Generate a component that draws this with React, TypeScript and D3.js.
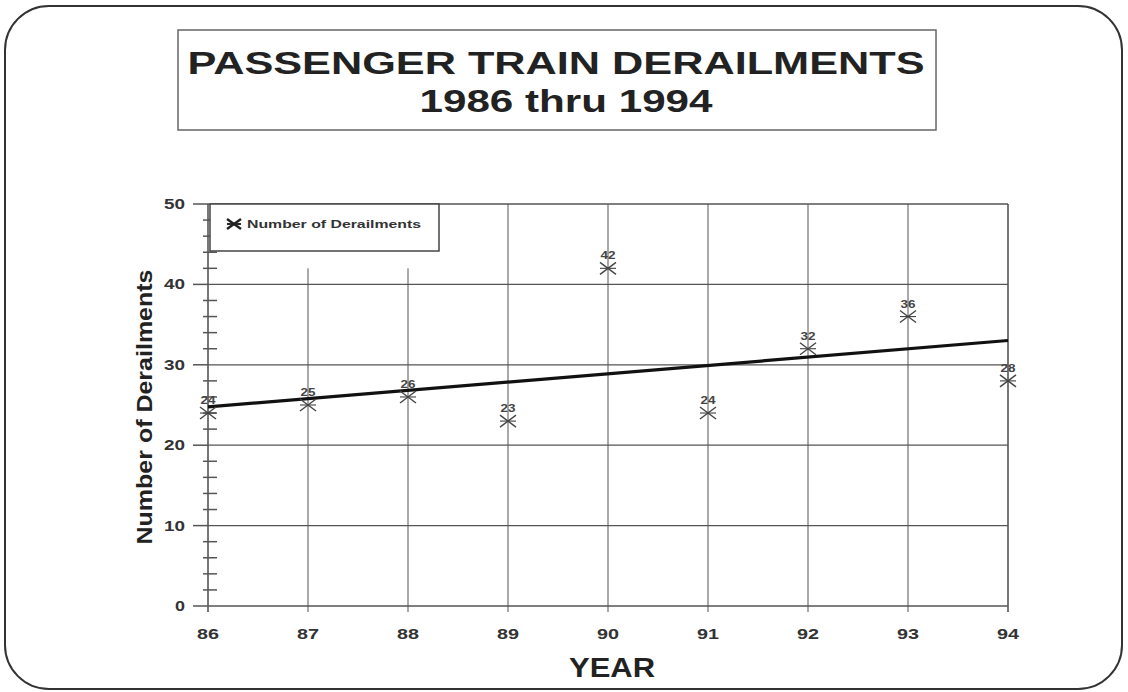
import React from "react";
import * as d3 from "d3";

const years = ["86", "87", "88", "89", "90", "91", "92", "93", "94"];
const derailments = [24, 25, 26, 23, 42, 24, 32, 36, 28];
const yTicks = [0, 10, 20, 30, 40, 50];
const yMinorTicks = [2, 4, 6, 8, 12, 14, 16, 18, 22, 24, 26, 28, 32, 34, 36, 38, 42, 44, 46, 48];
const titleLine1 = "PASSENGER TRAIN DERAILMENTS";
const titleLine2 = "1986 thru 1994";
const yTitle = "Number of Derailments";
const xTitle = "YEAR";
const legendLabel = "Number of Derailments";
const legendClearValue = 42; // vertical gridlines under the legend stop here
const legendYears = ["87", "88"];

const W = 1128;
const H = 692;
const M = { left: 208, right: 1008, top: 204, bottom: 606 };

export default function App() {
  const x = d3.scalePoint<string>().domain(years).range([M.left, M.right]);
  const y = d3.scaleLinear().domain([0, 50]).range([M.bottom, M.top]);

  // least squares trend
  const n = derailments.length;
  const xs = derailments.map((_, i) => i);
  const mx = d3.mean(xs) as number;
  const my = d3.mean(derailments) as number;
  const sxy = d3.sum(xs.map((xi, i) => (xi - mx) * (derailments[i] - my)));
  const sxx = d3.sum(xs.map((xi) => (xi - mx) ** 2));
  const slope = sxy / sxx;
  const intercept = my - slope * mx;
  const trend = [0, n - 1].map((i) => ({ yr: years[i], v: intercept + slope * i }));
  const trendPath = d3
    .line<{ yr: string; v: number }>()
    .x((d) => x(d.yr) as number)
    .y((d) => y(d.v))(trend);

  const star = (cx: number, cy: number, sx: number, sy: number, sw: number, color: string, key?: string) => (
    <g key={key} stroke={color} strokeWidth={sw}>
      <line x1={cx - sx} y1={cy - sy} x2={cx + sx} y2={cy + sy} />
      <line x1={cx - sx} y1={cy + sy} x2={cx + sx} y2={cy - sy} />
      <line x1={cx - sx} y1={cy} x2={cx + sx} y2={cy} strokeWidth={sw * 0.8} />
    </g>
  );

  const font = "'Liberation Sans', Arial, sans-serif";
  const ink = "#222";
  const grid = "#555";

  return (
    <svg
      width={W}
      height={H}
      style={{ position: "absolute", left: 0, top: 0, background: "#fff" }}
      fontFamily={font}
    >
      <rect x={5} y={6} width={1117} height={683} rx={44} ry={44} fill="none" stroke="#333" strokeWidth={2} />

      {/* title box */}
      <rect x={178} y={30} width={758} height={100} fill="none" stroke="#666" strokeWidth={1.5} />
      <text x={556} y={74} textAnchor="middle" fontSize={31} fontWeight="bold" fill={ink} textLength={737} lengthAdjust="spacingAndGlyphs">
        {titleLine1}
      </text>
      <text x={566} y={112} textAnchor="middle" fontSize={31} fontWeight="bold" fill={ink} textLength={293} lengthAdjust="spacingAndGlyphs">
        {titleLine2}
      </text>

      {/* horizontal gridlines */}
      {yTicks.map((t) => (
        <line key={"h" + t} x1={M.left} x2={M.right} y1={y(t)} y2={y(t)} stroke={grid} strokeWidth={t === 0 || t === 50 ? 1.6 : 1.2} />
      ))}
      {/* vertical gridlines */}
      {years.map((yr) => (
        <line
          key={"v" + yr}
          x1={x(yr)}
          x2={x(yr)}
          y1={legendYears.includes(yr) ? y(legendClearValue) : M.top}
          y2={M.bottom + 6}
          stroke={grid}
          strokeWidth={yr === years[0] || yr === years[years.length - 1] ? 1.6 : 1}
        />
      ))}

      {/* y axis ticks */}
      {yTicks.map((t) => (
        <line key={"mt" + t} x1={M.left - 15} x2={M.left} y1={y(t)} y2={y(t)} stroke={grid} strokeWidth={1.5} />
      ))}
      {yMinorTicks.map((t) => (
        <line key={"nt" + t} x1={M.left - 5} x2={M.left + 9} y1={y(t)} y2={y(t)} stroke={grid} strokeWidth={1.5} />
      ))}
      {yTicks.map((t) => (
        <text key={"yl" + t} x={185} y={y(t) + 5} textAnchor="end" fontSize={14} fontWeight="bold" fill="#333" textLength={String(t).length === 1 ? 10 : 21} lengthAdjust="spacingAndGlyphs">
          {t}
        </text>
      ))}
      {years.map((yr) => (
        <text key={"xl" + yr} x={x(yr)} y={639} textAnchor="middle" fontSize={14} fontWeight="bold" fill="#333" textLength={22} lengthAdjust="spacingAndGlyphs">
          {yr}
        </text>
      ))}

      {/* axis titles */}
      <text
        transform={`translate(152, ${407}) rotate(-90)`}
        textAnchor="middle"
        fontSize={22}
        fontWeight="bold"
        fill={ink}
        textLength={275}
        lengthAdjust="spacingAndGlyphs"
      >
        {yTitle}
      </text>
      <text x={612} y={677} textAnchor="middle" fontSize={27} fontWeight="bold" fill={ink} textLength={86} lengthAdjust="spacingAndGlyphs">
        {xTitle}
      </text>

      {/* legend */}
      <rect x={210} y={204} width={229} height={47} fill="#fff" stroke="#444" strokeWidth={1.5} />
      {star(234, 224, 7, 5, 2.4, "#222")}
      <text x={247} y={228} fontSize={10} fontWeight="bold" fill="#333" textLength={174} lengthAdjust="spacingAndGlyphs">
        {legendLabel}
      </text>

      {/* trend line */}
      <path d={trendPath || ""} fill="none" stroke="#111" strokeWidth={3.2} />

      {/* points */}
      {years.map((yr, i) => star(x(yr) as number, y(derailments[i]), 8, 6, 1.4, "#444", "p" + yr))}
      {years.map((yr, i) => (
        <text key={"dl" + yr} x={x(yr)} y={y(derailments[i]) - 9} textAnchor="middle" fontSize={11} fontWeight="bold" fill="#444" textLength={15} lengthAdjust="spacingAndGlyphs">
          {derailments[i]}
        </text>
      ))}
    </svg>
  );
}
